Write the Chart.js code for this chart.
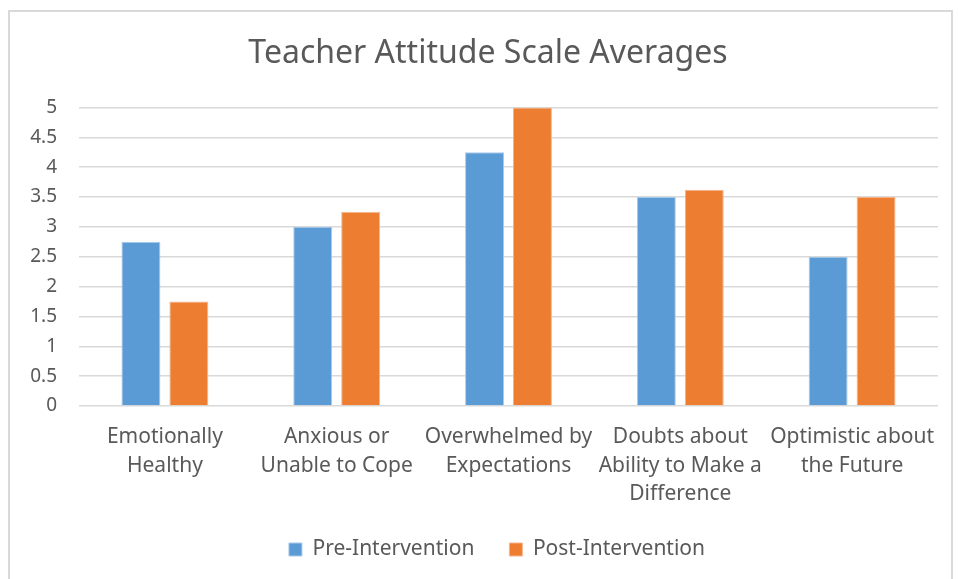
<!DOCTYPE html>
<html>
<head>
<meta charset="utf-8">
<script src="https://cdn.jsdelivr.net/npm/chart.js@4/dist/chart.umd.min.js"></script>
<style>
  html, body { margin: 0; padding: 0; background: #fff; }
  #wrap { position: relative; width: 958px; height: 579px; }
</style>
</head>
<body>
<div id="wrap"><canvas id="chart"></canvas></div>
<script>
const categories = [
  ['Emotionally', 'Healthy'],
  ['Anxious or', 'Unable to Cope'],
  ['Overwhelmed by', 'Expectations'],
  ['Doubts about', 'Ability to Make a', 'Difference'],
  ['Optimistic about', 'the Future']
];
const preIntervention = [2.75, 3, 4.25, 3.5, 2.5];
const postIntervention = [1.75, 3.25, 5, 3.62, 3.5];
const yTicks = [0, 0.5, 1, 1.5, 2, 2.5, 3, 3.5, 4, 4.5, 5];

const textColor = '#595959';
const fontFamily = "'Noto Sans', 'Open Sans', sans-serif";

// light grey frame round the whole chart, like the office chart border
const framePlugin = {
  id: 'frame',
  beforeDraw(chart) {
    const ctx = chart.ctx;
    ctx.save();
    ctx.strokeStyle = '#d9d9d9';
    ctx.lineWidth = 2;
    ctx.strokeRect(9, 11, 943, 575);
    ctx.restore();
  }
};

// title and legend sit a bit right of the canvas centre in the original
const nudgePlugin = {
  id: 'nudge',
  afterLayout(chart) {
    if (chart.titleBlock) {
      chart.titleBlock.left += 7;
      chart.titleBlock.right += 7;
    }
    if (chart.legend) {
      chart.legend.left += 16;
      chart.legend.right += 16;
    }
  }
};

new Chart(document.getElementById('chart'), {
  type: 'bar',
  data: {
    labels: categories,
    datasets: [
      {
        label: 'Pre-Intervention',
        data: preIntervention,
        backgroundColor: '#5b9bd5',
        borderColor: '#a9c9ea',
        borderWidth: 1,
        categoryPercentage: 0.558,
        barPercentage: 0.8125
      },
      {
        label: 'Post-Intervention',
        data: postIntervention,
        backgroundColor: '#ed7d31',
        borderColor: '#f5b48a',
        borderWidth: 1,
        categoryPercentage: 0.558,
        barPercentage: 0.8125
      }
    ]
  },
  options: {
    responsive: true,
    maintainAspectRatio: false,
    animation: false,
    layout: {
      padding: { left: 24, right: 20, top: 0, bottom: 9 }
    },
    plugins: {
      title: {
        display: true,
        text: 'Teacher Attitude Scale Averages',
        color: textColor,
        font: { family: fontFamily, size: 32, weight: 'normal' },
        padding: { top: 35, bottom: 34 }
      },
      legend: {
        position: 'bottom',
        labels: {
          color: textColor,
          font: { family: fontFamily, size: 21 },
          boxWidth: 13,
          boxHeight: 13,
          padding: 14,
          // a wider gap after the first entry, as in the original legend
          generateLabels(chart) {
            const items = Chart.defaults.plugins.legend.labels.generateLabels(chart);
            items[0].text += '\u2003';
            return items;
          }
        }
      },
      tooltip: { enabled: false }
    },
    scales: {
      x: {
        grid: { display: false, drawTicks: false },
        border: { display: false },
        ticks: {
          color: textColor,
          font: { family: fontFamily, size: 21, lineHeight: 1.38 },
          padding: 16,
          maxRotation: 0,
          autoSkip: false
        }
      },
      y: {
        min: 0,
        max: 5,
        afterBuildTicks(axis) {
          axis.ticks = yTicks.map((v) => ({ value: v }));
        },
        afterFit(axis) {
          axis.width = 55;
        },
        grid: { color: '#d9d9d9', lineWidth: 1.5, drawTicks: false },
        border: { display: false },
        ticks: {
          color: textColor,
          font: { family: fontFamily, size: 19 },
          padding: 22,
          callback: (value) => String(value)
        }
      }
    }
  },
  plugins: [framePlugin, nudgePlugin]
});
</script>
</body>
</html>
